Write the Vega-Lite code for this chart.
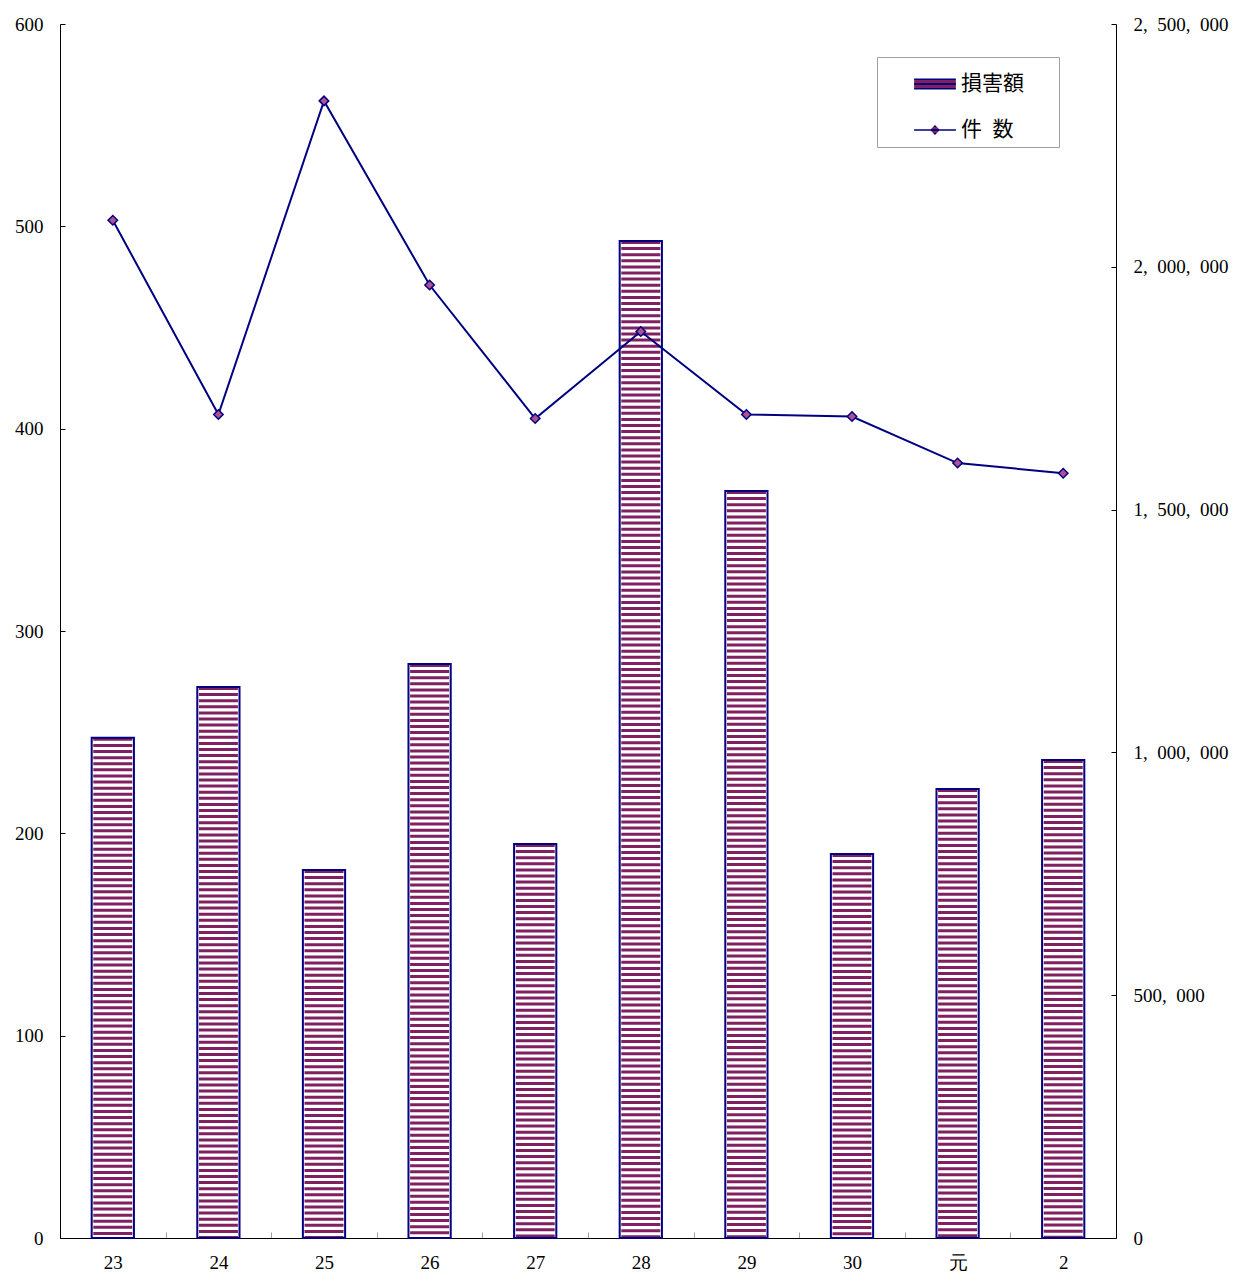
{
  "$schema": "https://vega.github.io/schema/vega-lite/v6.json",
  "autosize": {"type": "none"},
  "width": 1056,
  "height": 1214,
  "padding": {"left": 60, "top": 24, "right": 118, "bottom": 37},
  "background": "white",
  "config": {
    "view": {"stroke": null},
    "axis": {
      "labelFont": "Liberation Serif",
      "labelFontSize": 19,
      "labelColor": "black",
      "domainColor": "black",
      "domainWidth": 1,
      "tickColor": "black",
      "grid": false,
      "title": null
    }
  },
  "data": {
    "values": [
      {"year": "23", "amount": 1030000, "count": 503},
      {"year": "24", "amount": 1134700, "count": 407},
      {"year": "25", "amount": 757800, "count": 562},
      {"year": "26", "amount": 1182000, "count": 471},
      {"year": "27", "amount": 811400, "count": 405},
      {"year": "28", "amount": 2053100, "count": 448},
      {"year": "29", "amount": 1538300, "count": 407},
      {"year": "30", "amount": 790800, "count": 406},
      {"year": "元", "amount": 924600, "count": 383},
      {"year": "2", "amount": 984300, "count": 378}
    ]
  },
  "encoding": {
    "x": {
      "field": "year",
      "type": "ordinal",
      "sort": null,
      "scale": {"paddingInner": 0, "paddingOuter": 0},
      "axis": {
        "title": null,
        "labelAngle": 0,
        "tickBand": "extent",
        "tickSize": -6,
        "tickColor": "#a0a0a0",
        "labelBaseline": "middle",
        "labelPadding": 30
      }
    }
  },
  "layer": [
    {
      "encoding": {
        "y": {
          "field": "amount",
          "type": "quantitative",
          "scale": {"domain": [0, 2500000], "nice": false},
          "axis": {
            "orient": "right",
            "values": [0, 500000, 1000000, 1500000, 2000000, 2500000],
            "labelExpr": "replace(format(datum.value, ','), /,/g, ',\u2002')",
            "tickSize": -5,
            "labelPadding": 22
          }
        }
      },
      "layer": [
        {
          "mark": {"type": "rule", "strokeWidth": 39, "strokeDash": [3, 3.1], "color": "#802060"},
          "encoding": {"y2": {"datum": 0}}
        },
        {
          "mark": {"type": "bar", "fill": null, "stroke": "#000080", "strokeWidth": 2, "width": {"band": 0.4}},
          "encoding": {}
        }
      ]
    },
    {
      "encoding": {
        "y": {
          "field": "count",
          "type": "quantitative",
          "scale": {"domain": [0, 600], "nice": false},
          "axis": {
            "orient": "left",
            "values": [0, 100, 200, 300, 400, 500, 600],
            "tickSize": -5,
            "labelPadding": 22
          }
        }
      },
      "layer": [
        {
          "mark": {"type": "line", "strokeWidth": 2, "color": "#000080"},
          "encoding": {}
        },
        {
          "mark": {"type": "point", "shape": "diamond", "filled": true, "fill": "#b05090", "stroke": "#000080", "strokeWidth": 1.5, "size": 90, "opacity": 1}
        },
        {
          "mark": {
            "type": "point", "filled": true, "opacity": 0, "strokeWidth": 2,
            "fill": {"gradient": "linear", "x1": 0, "y1": 0, "x2": 0, "y2": 1, "stops": [
              {"offset": 0, "color": "#000080"}, {"offset": 0.15, "color": "#000080"},
              {"offset": 0.15, "color": "#802060"}, {"offset": 0.4, "color": "#802060"},
              {"offset": 0.4, "color": "#000080"}, {"offset": 0.6, "color": "#000080"},
              {"offset": 0.6, "color": "#802060"}, {"offset": 0.85, "color": "#802060"},
              {"offset": 0.85, "color": "#000080"}, {"offset": 1, "color": "#000080"}]}
          },
          "encoding": {
            "stroke": {"value": "#000080"},
            "shape": {
              "datum": "損害額",
              "scale": {
                "domain": ["損害額", "件\u2002数"],
                "range": [
                  "M-1.1,-0.29H1.1V0.29H-1.1Z",
                  "M-1.1,-0.045H-0.2V0.045H-1.1Z M0.2,-0.045H1.1V0.045H0.2Z M0,-0.26L0.26,0L0,0.26L-0.26,0Z"
                ]
              },
              "legend": {
                "title": null,
                "orient": "none",
                "legendX": 817,
                "legendY": 33,
                "direction": "vertical",
                "padding": 7,
                "strokeColor": "#a0a0a0",
                "fillColor": "white",
                "symbolSize": 1444,
                "symbolOffset": 31,
                "symbolOpacity": 1,
                "symbolFillColor": "#000080",
                "symbolStrokeColor": "#000080",
                "symbolStrokeWidth": 2,
                "rowPadding": 16,
                "labelOffset": 6,
                "labelFont": "Noto Sans CJK JP",
                "labelFontSize": 21,
                "labelColor": "black",
                "labelBaseline": "middle",
                "labelExpr": "datum.label + '\u3000\u2004\u200b'"
              }
            }
          }
        }
      ]
    }
  ],
  "resolve": {"scale": {"y": "independent"}}
}
